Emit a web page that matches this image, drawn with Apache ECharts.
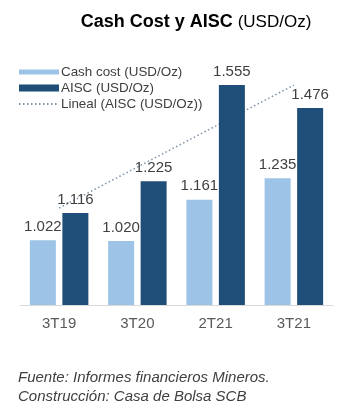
<!DOCTYPE html>
<html><head><meta charset="utf-8">
<script src="https://cdn.jsdelivr.net/npm/echarts@6/dist/echarts.min.js"></script>
<style>html,body{margin:0;padding:0;background:#fff}#c{width:356px;height:413px}</style>
</head><body><div id="c"></div>
<script>
const categories = ['3T19', '3T20', '2T21', '3T21'];
const cashCost = [1.022, 1.020, 1.161, 1.235];
const aisc = [1.116, 1.225, 1.555, 1.476];
const trendLine = [1.133, null, null, 1.555];
const seriesNames = ['Cash cost (USD/Oz)', 'AISC (USD/Oz)', 'Lineal (AISC (USD/Oz))'];

const fmt = p => p.value.toFixed(3);
const chart = echarts.init(document.getElementById('c'), null, {renderer: 'canvas'});
const font = 'Liberation Sans, Arial, sans-serif';
chart.setOption({
  animation: false,
  textStyle: {fontFamily: font},
  title: {
    text: '{b|Cash Cost y AISC} {n|(USD/Oz)}',
    left: 191, textAlign: 'center', top: 8,
    textStyle: {rich: {
      b: {fontFamily: font, fontWeight: 'bold', fontSize: 18, color: '#000'},
      n: {fontFamily: font, fontWeight: 'normal', fontSize: 17, color: '#000'}
    }}
  },
  legend: {
    orient: 'vertical', left: 13, top: 60, itemGap: 2,
    itemWidth: 40, itemHeight: 12,
    textStyle: {fontFamily: font, fontSize: 13.4, lineHeight: 14, color: '#404040', padding: [0, 0, 0, -3]},
    data: [
      {name: seriesNames[0], icon: 'path://M0,3.5H40V8.5H0Z'},
      {name: seriesNames[1], icon: 'path://M0,2.5H40V9.5H0Z'},
      {name: seriesNames[2], itemStyle: {opacity: 0}}
    ]
  },
  grid: {left: 20, right: 23, top: 72, bottom: 108},
  xAxis: {
    type: 'category', data: categories,
    axisLine: {lineStyle: {color: '#d9d9d9', width: 1}},
    axisTick: {show: false},
    axisLabel: {fontFamily: font, fontSize: 15, color: '#595959', margin: 11}
  },
  yAxis: {type: 'value', min: 0.8, max: 1.6, show: false, splitLine: {show: false}},
  series: [
    {name: seriesNames[0], type: 'bar', data: cashCost, barWidth: 26, barGap: '25%',
     itemStyle: {color: '#9dc3e6'},
     label: {show: true, position: 'top', distance: 6, formatter: fmt, fontFamily: font, fontSize: 15, color: '#404040'}},
    {name: seriesNames[1], type: 'bar', data: aisc, barWidth: 26,
     itemStyle: {color: '#1f4e79'},
     label: {show: true, position: 'top', distance: 6, formatter: fmt, fontFamily: font, fontSize: 15, color: '#404040'}},
    {name: seriesNames[2], type: 'line', data: trendLine, connectNulls: true,
     symbol: 'none', z: 1,
     lineStyle: {color: '#7f93a8', width: 1.5, type: [1.5, 2.5]},
     itemStyle: {color: '#7f93a8'}}
  ],
  graphic: [
    {type: 'text', left: 18, top: 370, style: {text: 'Fuente: Informes financieros Mineros.', font: 'italic 15px ' + font, fill: '#404040'}},
    {type: 'text', left: 18, top: 389, style: {text: 'Construcción: Casa de Bolsa SCB', font: 'italic 15px ' + font, fill: '#404040'}}
  ]
});
</script></body></html>
